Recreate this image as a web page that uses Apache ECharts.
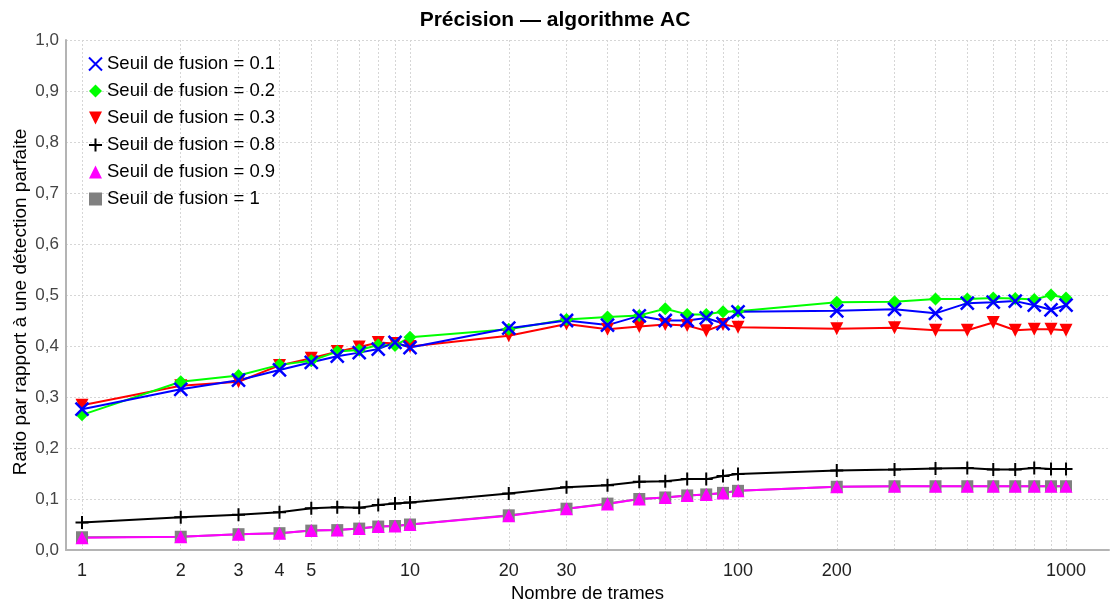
<!DOCTYPE html>
<html>
<head>
<meta charset="utf-8">
<script src="https://cdn.jsdelivr.net/npm/echarts@6/dist/echarts.min.js"></script>
<style>html,body{margin:0;padding:0;background:#fff}#c{width:1110px;height:604px}</style>
</head>
<body>
<div id="c"></div>
<script>
// frames (x values)
const frames = [1,2,3,4,5,6,7,8,9,10,20,30,40,50,60,70,80,90,100,200,300,400,500,600,700,800,900,1000];
const xTickLabels = [1,2,3,4,5,10,20,30,100,200,1000];
const yTicks = [0,0.1,0.2,0.3,0.4,0.5,0.6,0.7,0.8,0.9,1.0];

const s01 = [0.276,0.315,0.333,0.353,0.368,0.380,0.387,0.394,0.407,0.397,0.435,0.450,0.441,0.459,0.450,0.450,0.455,0.444,0.467,0.469,0.472,0.464,0.484,0.486,0.488,0.480,0.471,0.480];
const s02 = [0.265,0.330,0.342,0.363,0.371,0.389,0.392,0.402,0.401,0.417,0.433,0.452,0.457,0.460,0.473,0.462,0.462,0.467,0.468,0.486,0.487,0.492,0.492,0.494,0.493,0.491,0.500,0.494];
const s03 = [0.284,0.322,0.330,0.362,0.376,0.389,0.398,0.407,0.405,0.399,0.420,0.443,0.433,0.438,0.442,0.440,0.430,0.442,0.437,0.434,0.436,0.431,0.431,0.446,0.431,0.433,0.433,0.431];
const s08 = [0.054,0.064,0.069,0.074,0.082,0.084,0.083,0.088,0.091,0.093,0.111,0.123,0.127,0.134,0.135,0.139,0.139,0.145,0.149,0.156,0.158,0.160,0.161,0.158,0.158,0.161,0.159,0.159];
const s09 = [0.024,0.026,0.031,0.033,0.038,0.039,0.042,0.046,0.047,0.050,0.067,0.081,0.090,0.100,0.103,0.107,0.109,0.112,0.116,0.124,0.125,0.125,0.125,0.125,0.125,0.125,0.125,0.125];
const s10 = [0.025,0.026,0.031,0.033,0.038,0.039,0.042,0.046,0.047,0.050,0.068,0.081,0.091,0.100,0.103,0.107,0.109,0.112,0.116,0.124,0.125,0.125,0.125,0.125,0.125,0.125,0.125,0.125];

const names = ['Seuil de fusion = 0.1','Seuil de fusion = 0.2','Seuil de fusion = 0.3','Seuil de fusion = 0.8','Seuil de fusion = 0.9','Seuil de fusion = 1'];

const X_PATH = 'path://M0,0 L10,10 M10,0 L0,10';
const PLUS_PATH = 'path://M5,0 L5,10 M0,5 L10,5';

function pts(arr){ return arr.map((v,i)=>[Math.log10(frames[i]), v]); }

const font = 'Liberation Sans, Arial, sans-serif';

const chart = echarts.init(document.getElementById('c'));
chart.setOption({
  animation:false,
  backgroundColor:'#fff',
  textStyle:{fontFamily:font},
  title:{text:'Précision — algorithme AC', left:'center', top:5,
    textStyle:{fontFamily:font, fontSize:21, fontWeight:'bold', color:'#000'}},
  grid:{left:66, right:1, top:40, bottom:54, containLabel:false, outerBoundsMode:'none'},
  legend:{
    orient:'vertical', left:88, top:54, padding:0, itemGap:7, itemWidth:13, itemHeight:13,
    textStyle:{fontFamily:font, fontSize:18.5, color:'#000', lineHeight:20},
    data:[
      {name:names[0], icon:X_PATH},
      {name:names[1], icon:'diamond'},
      {name:names[2], icon:'path://M0,0 L10,0 L5,10 Z'},
      {name:names[3], icon:PLUS_PATH},
      {name:names[4], icon:'triangle'},
      {name:names[5], icon:'rect'}
    ]
  },
  xAxis:{
    type:'value', min:-0.0488, max:3.131,
    name:'Nombre de trames', nameLocation:'middle', nameGap:34,
    nameTextStyle:{fontFamily:font, fontSize:18.5, color:'#000'},
    axisLine:{show:true, onZero:false, lineStyle:{color:'#b4b4b4', width:2}},
    axisTick:{show:false, customValues: frames.map(f=>Math.log10(f))},
    axisLabel:{customValues: xTickLabels.map(f=>Math.log10(f)), margin:12,
      fontFamily:font, fontSize:18, color:'#222',
      formatter:(v)=>String(Math.round(Math.pow(10,v)))},
    splitLine:{show:true, lineStyle:{color:'#d6d6d6', type:[2,2], width:1}}
  },
  yAxis:{
    type:'value', min:0, max:1, interval:0.1,
    name:'Ratio par rapport à une détection parfaite', nameLocation:'middle', nameGap:36,
    nameMoveOverlap:false,
    nameTextStyle:{fontFamily:font, fontSize:19, color:'#000', padding:[0,14,0,0]},
    axisLine:{show:true, onZero:false, lineStyle:{color:'#b4b4b4', width:2}},
    axisTick:{show:false},
    axisLabel:{margin:7, fontFamily:font, fontSize:17, color:'#444',
      formatter:(v)=>v.toFixed(1).replace('.', ',')},
    splitLine:{show:true, lineStyle:{color:'#d6d6d6', type:[2,2], width:1}}
  },
  series:[
    {name:names[5], type:'line', data:pts(s10), symbol:'rect', symbolSize:12,
      itemStyle:{color:'#808080'}, lineStyle:{width:2, color:'#808080'}},
    {name:names[4], type:'line', data:pts(s09), symbol:'triangle', symbolSize:13,
      itemStyle:{color:'#ff00ff'}, lineStyle:{width:2, color:'#ff00ff'}},
    {name:names[3], type:'line', data:pts(s08), symbol:PLUS_PATH, symbolSize:13,
      itemStyle:{color:'#000', borderColor:'#000', borderWidth:2}, lineStyle:{width:2, color:'#000'}},
    {name:names[2], type:'line', data:pts(s03), symbol:'triangle', symbolRotate:180, symbolSize:13,
      itemStyle:{color:'#ff0000'}, lineStyle:{width:2, color:'#ff0000'}},
    {name:names[1], type:'line', data:pts(s02), symbol:'diamond', symbolSize:13,
      itemStyle:{color:'#00ff00'}, lineStyle:{width:2, color:'#00ff00'}},
    {name:names[0], type:'line', data:pts(s01), symbol:X_PATH, symbolSize:13,
      itemStyle:{color:'#0000ff', borderColor:'#0000ff', borderWidth:2.5}, lineStyle:{width:2, color:'#0000ff'}}
  ]
});
</script>
</body>
</html>
